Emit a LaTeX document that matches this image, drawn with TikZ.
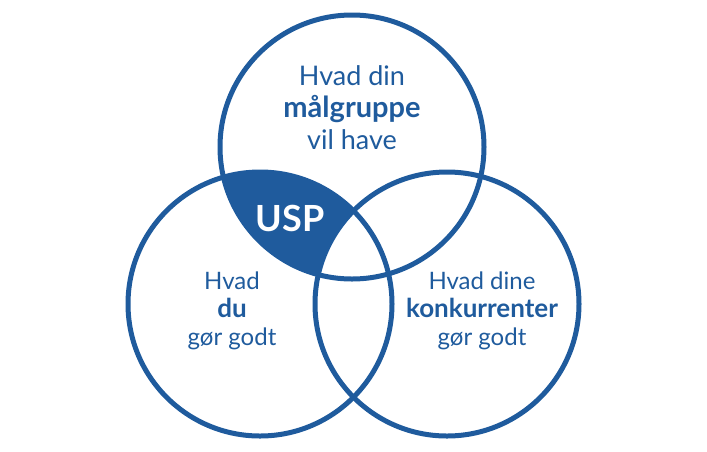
\documentclass[tikz,border=0pt]{standalone}
\usepackage{fontspec}
\setmainfont{Lato}
\usetikzlibrary{positioning}
\definecolor{uspblue}{RGB}{31,91,157}
\newcommand{\bigbf}[2]{{\fontsize{#1}{#1}\selectfont\bfseries #2}}

\begin{document}
\begin{tikzpicture}[x=1pt,y=-1pt,
	ring/.style={draw=uspblue,line width=5pt,circle,minimum size=264pt,inner sep=0pt},
	txt/.style={text=uspblue,align=center,font=\fontsize{24}{28}\selectfont},
	toptxt/.style={txt,font=\fontsize{27}{32}\selectfont}]
	\useasboundingbox (0,0) rectangle (707,451);
	\coordinate (ct) at (352,147);
	\coordinate (cl) at (260,304);
	\coordinate (cr) at (447,304);
	% usp region
	\begin{scope}
	\clip (ct) circle (132pt);
	\clip (cl) circle (132pt);
	\fill[uspblue] (0,0) rectangle (707,451);
	\fill[white] (cr) circle (132pt);
	\end{scope}
	\node[ring] (top) at (ct) {};
	\node[ring] (left) at (cl) {};
	\node[ring] (right) at (cr) {};
	\node[toptxt] (maal) at (352,108) {Hvad din\\\bigbf{29}{målgruppe}\\vil have};
	\node[txt] (du) at (232,311) {Hvad\\\bigbf{26}{du}\\gør godt};
	\node[txt] (konk) at (482,311) {Hvad dine\\\bigbf{26}{konkurrenter}\\gør godt};
	\node[text=white,font=\fontsize{36}{40}\selectfont\bfseries] (usp) at (290,218) {USP};
\end{tikzpicture}
\end{document}
